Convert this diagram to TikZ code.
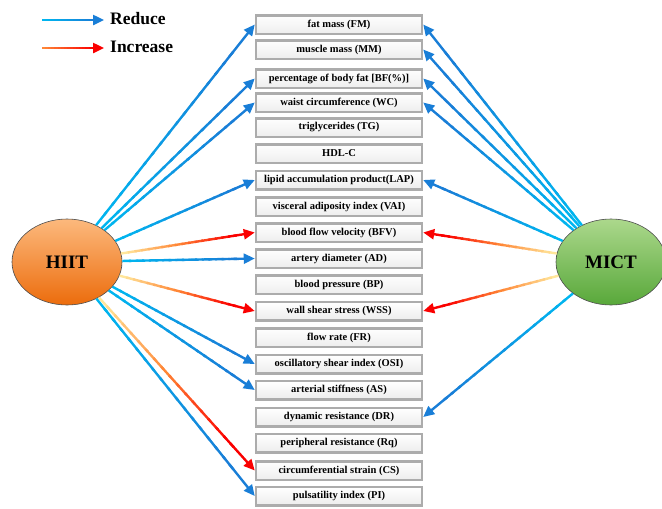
\documentclass[tikz,border=0pt]{standalone}
\usepackage{fontspec}
\setmainfont{Liberation Serif}
\usetikzlibrary{shapes.geometric,arrows.meta,calc}
\definecolor{cya}{RGB}{0,182,240}
\definecolor{blu}{RGB}{25,126,215}
\definecolor{yel}{RGB}{255,230,155}
\definecolor{ora}{RGB}{255,135,55}
\definecolor{rd}{RGB}{250,0,0}
\newcommand\redarrow[2]{%
  \path (#1) -- (#2) coordinate[pos=0] (gs);
  \foreach \k in {0,...,16}{%
    \pgfmathsetmacro\ta{\k/20}\pgfmathsetmacro\tb{(\k+1.3)/20}%
    \pgfmathtruncatemacro\p{\k*100/16}%
    \draw[conn, color=blu!\p!cya] ($(gs)!\ta!(#2)$) -- ($(gs)!\tb!(#2)$);}
  \draw[conn, blu, -{Triangle[length=11pt,width=10pt]}] ($(gs)!0.84!(#2)$) -- (#2);
}
\newcommand\incarrow[2]{%
  \path (#1) -- (#2) coordinate[pos=0] (gs);
  \foreach \k in {0,...,16}{%
    \pgfmathsetmacro\ta{\k/20}\pgfmathsetmacro\tb{(\k+1.3)/20}%
    \ifnum\k<9 \pgfmathtruncatemacro\p{\k*100/8}\def\cc{ora!\p!yel}%
    \else \pgfmathtruncatemacro\p{(\k-8)*100/8}\def\cc{rd!\p!ora}\fi
    \draw[conn, color=\cc] ($(gs)!\ta!(#2)$) -- ($(gs)!\tb!(#2)$);}
  \draw[conn, rd, -{Triangle[length=11pt,width=10pt]}] ($(gs)!0.84!(#2)$) -- (#2);
}
\tikzset{
  conn/.style={line width=2.4pt},
  box/.style={rectangle, draw=gray!65, line width=2.5pt, top color=white, bottom color=gray!14,
    minimum width=166pt, minimum height=18.5pt, inner sep=0pt,
    font=\bfseries\fontsize{10.5}{12}\selectfont,
    path picture={\draw[gray!40!black, line width=1.6pt]
      (path picture bounding box.north east) -- (path picture bounding box.south east);}},
  blob/.style={ellipse, inner sep=0pt, minimum width=110pt, minimum height=86pt,
    draw=gray!60!black, line width=0.6pt, font=\bfseries\fontsize{19}{22}\selectfont},
  legtext/.style={anchor=west, inner sep=0pt, font=\bfseries\fontsize{17.5}{20}\selectfont}
}
\begin{document}
\begin{tikzpicture}[x=1pt,y=-1pt]
\useasboundingbox (0,0) rectangle (662,509);
% boxes
\node[box] (b1) at (339,24.5) {fat mass (FM)};
\node[box] (b2) at (339,49.5) {muscle mass (MM)};
\node[box] (b3) at (339,78.5) {percentage of body fat [BF(\%)]};
\node[box] (b4) at (339,102.5) {waist circumference (WC)};
\node[box] (b5) at (339,127.5) {triglycerides (TG)};
\node[box] (b6) at (339,153.5) {HDL-C};
\node[box] (b7) at (339,180) {lipid accumulation product(LAP)};
\node[box] (b8) at (339,206.5) {visceral adiposity index (VAI)};
\node[box] (b9) at (339,232.5) {blood flow velocity (BFV)};
\node[box] (b10) at (339,258.5) {artery diameter (AD)};
\node[box] (b11) at (339,284.5) {blood pressure (BP)};
\node[box] (b12) at (339,311) {wall shear stress (WSS)};
\node[box] (b13) at (339,337.5) {flow rate (FR)};
\node[box] (b14) at (339,364) {oscillatory shear index (OSI)};
\node[box] (b15) at (339,390) {arterial stiffness (AS)};
\node[box] (b16) at (339,417) {dynamic resistance (DR)};
\node[box] (b17) at (339,443) {peripheral resistance (Rq)};
\node[box] (b18) at (339,470.5) {circumferential strain (CS)};
\node[box] (b19) at (339,496) {pulsatility index (PI)};
% ellipses
\node[blob, top color={rgb,255:red,252;green,185;blue,125}, bottom color={rgb,255:red,236;green,108;blue,12}] (H) at (67,262) {HIIT};
\node[blob, top color={rgb,255:red,172;green,216;blue,140}, bottom color={rgb,255:red,88;green,168;blue,58}] (M) at (611,262) {MICT};
% HIIT arrows
\redarrow{H}{b1.west}
\redarrow{H}{b3.west}
\redarrow{H}{b4.west}
\redarrow{H}{b7.west}
\incarrow{H}{b9.west}
\redarrow{H}{b10.west}
\incarrow{H}{b12.west}
\redarrow{H}{b14.west}
\redarrow{H}{b15.west}
\incarrow{H}{b18.west}
\redarrow{H}{b19.west}
% MICT arrows
\redarrow{M}{b1.east}
\redarrow{M}{b2.east}
\redarrow{M}{b3.east}
\redarrow{M}{b4.east}
\redarrow{M}{b7.east}
\incarrow{M}{b9.east}
\incarrow{M}{b12.east}
\redarrow{M}{b16.east}
% legend
\coordinate (l1s) at (42,20);
\coordinate (l1e) at (104,20);
\coordinate (l2s) at (42,48);
\coordinate (l2e) at (104,48);
\redarrow{l1s}{l1e}
\path (l2s) -- (l2e) coordinate[pos=0] (gs);
\foreach \k in {0,...,16}{%
  \pgfmathsetmacro\ta{\k/20}\pgfmathsetmacro\tb{(\k+1.3)/20}%
  \pgfmathtruncatemacro\p{\k*100/16}%
  \draw[conn, color=rd!\p!ora] ($(gs)!\ta!(l2e)$) -- ($(gs)!\tb!(l2e)$);}
\draw[conn, rd, -{Triangle[length=11pt,width=10pt]}] ($(gs)!0.84!(l2e)$) -- (l2e);
\node[legtext] (t1) at (110,19) {Reduce};
\node[legtext] (t2) at (110,47) {Increase};
\end{tikzpicture}
\end{document}
